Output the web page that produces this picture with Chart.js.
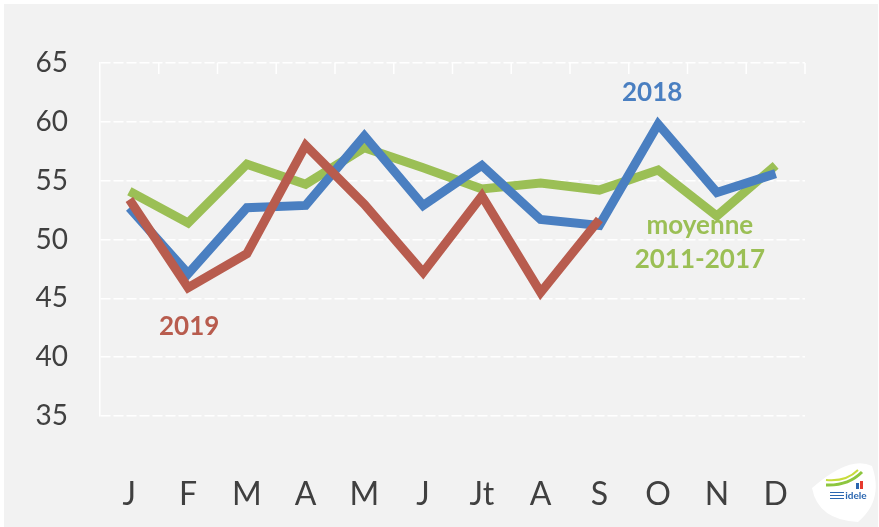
<!DOCTYPE html>
<html lang="fr">
<head>
    <meta charset="UTF-8">
    <title>Prix 2018 / 2019</title>
    <style>
        html, body { margin: 0; padding: 0; background: #ffffff; }
        #wrap { width: 879px; height: 527px; }
    </style>
</head>
<body>
    <div id="wrap">
        <canvas id="myChart" width="879" height="527"></canvas>
    </div>
    <script src="https://cdn.jsdelivr.net/npm/chart.js"></script>
    <script>
        // data
        const months = ['J', 'F', 'M', 'A', 'M', 'J', 'Jt', 'A', 'S', 'O', 'N', 'D'];
        const serie2018 = [52.7, 47.1, 52.7, 52.9, 58.8, 52.9, 56.3, 51.7, 51.2, 59.8, 54.0, 55.6];
        const serie2019 = [53.4, 45.9, 48.8, 58.0, 53.0, 47.2, 53.7, 45.5, 51.7];
        const moyenne = [54.1, 51.4, 56.4, 54.7, 57.8, 56.1, 54.3, 54.8, 54.2, 55.9, 52.0, 56.3];
        const yTicks = [35, 40, 45, 50, 55, 60, 65];

        const BLUE = '#4a7fc1';
        const RED = '#b85c4e';
        const GREEN = '#9bbf55';
        const FONT = 'Lato, "Open Sans", sans-serif';

        // grey background with a thin white frame
        const bgPlugin = {
            id: 'bg',
            beforeDraw(chart) {
                const c = chart.ctx;
                c.save();
                c.fillStyle = '#ffffff';
                c.fillRect(0, 0, chart.width, chart.height);
                c.fillStyle = '#f2f2f2';
                c.fillRect(4, 4, chart.width - 5, chart.height - 4);
                c.restore();
            }
        };

        // small white ticks hanging from the top line, text labels and the logo
        const extrasPlugin = {
            id: 'extras',
            afterDraw(chart) {
                const c = chart.ctx;
                const a = chart.chartArea;
                const xs = chart.scales.x;
                const ys = chart.scales.y;
                c.save();
                c.strokeStyle = '#ffffff';
                c.lineWidth = 1.5;
                const step = (a.right - a.left) / months.length;
                for (let i = 1; i <= months.length; i++) {
                    const x = a.left + i * step;
                    c.beginPath();
                    c.moveTo(x, a.top);
                    c.lineTo(x, a.top + 11);
                    c.stroke();
                }

                c.textAlign = 'center';
                c.textBaseline = 'middle';
                c.font = 'bold 26px ' + FONT;
                c.fillStyle = BLUE;
                c.fillText('2018', xs.getPixelForValue(9) - 6, ys.getPixelForValue(62.5));
                c.fillStyle = RED;
                c.fillText('2019', xs.getPixelForValue(1) + 1, ys.getPixelForValue(42.6));
                c.fillStyle = GREEN;
                c.fillText('moyenne', xs.getPixelForValue(10) - 17, ys.getPixelForValue(51.2));
                c.fillText('2011-2017', xs.getPixelForValue(10) - 17, ys.getPixelForValue(48.3));

                // idele logo (rough)
                c.fillStyle = '#ffffff';
                c.beginPath();
                c.moveTo(812, 488);
                c.quadraticCurveTo(850, 455, 872, 466);
                c.quadraticCurveTo(884, 500, 858, 522);
                c.quadraticCurveTo(818, 520, 812, 488);
                c.fill();
                c.strokeStyle = '#8dc63f';
                c.lineWidth = 3;
                c.beginPath();
                c.moveTo(826, 485);
                c.quadraticCurveTo(848, 486, 862, 472);
                c.stroke();
                c.strokeStyle = '#c8dc3c';
                c.lineWidth = 2;
                c.beginPath();
                c.moveTo(826, 480);
                c.quadraticCurveTo(846, 482, 858, 470);
                c.stroke();
                c.fillStyle = '#e63a2e';
                c.fillRect(860, 481, 3, 8);
                c.fillStyle = '#2a66b0';
                c.fillRect(856, 483, 3, 6);
                c.font = 'bold 10px ' + FONT;
                c.fillText('idele', 856, 496);
                c.fillRect(830, 492, 14, 1);
                c.fillRect(830, 495, 14, 1);
                c.fillRect(830, 498, 14, 1);
                c.restore();
            }
        };

        const ctx = document.getElementById('myChart').getContext('2d');
        const myChart = new Chart(ctx, {
            type: 'line',
            data: {
                labels: months,
                datasets: [{
                    label: '2019',
                    data: serie2019,
                    borderColor: RED,
                    borderWidth: 9,
                    order: 1
                }, {
                    label: '2018',
                    data: serie2018,
                    borderColor: BLUE,
                    borderWidth: 9,
                    order: 2
                }, {
                    label: 'moyenne 2011-2017',
                    data: moyenne,
                    borderColor: GREEN,
                    borderWidth: 9,
                    order: 3
                }]
            },
            options: {
                responsive: false,
                animation: false,
                layout: {
                    padding: { left: 4, right: 74, top: 63, bottom: 0 }
                },
                elements: {
                    point: { radius: 0, hoverRadius: 0 },
                    line: { tension: 0, borderJoinStyle: 'miter', borderCapStyle: 'butt' }
                },
                plugins: {
                    legend: { display: false },
                    tooltip: { enabled: false }
                },
                scales: {
                    x: {
                        offset: true,
                        grid: { display: false },
                        border: { display: false },
                        ticks: {
                            color: '#404040',
                            padding: 51,
                            font: { family: FONT, size: 32 }
                        },
                        afterFit(scale) { scale.height = 111; }
                    },
                    y: {
                        min: 35,
                        max: 65,
                        afterBuildTicks(scale) {
                            scale.ticks = yTicks.map(v => ({ value: v }));
                        },
                        grid: {
                            color: '#ffffff',
                            lineWidth: 1.5,
                            drawTicks: false
                        },
                        border: { display: true, color: '#ffffff', width: 1.5, dash: [10, 3] },
                        ticks: {
                            color: '#404040',
                            padding: 32,
                            font: { family: FONT, size: 28 }
                        },
                        afterFit(scale) { scale.width = 96; }
                    }
                }
            },
            plugins: [bgPlugin, extrasPlugin]
        });
    </script>
</body>
</html>
